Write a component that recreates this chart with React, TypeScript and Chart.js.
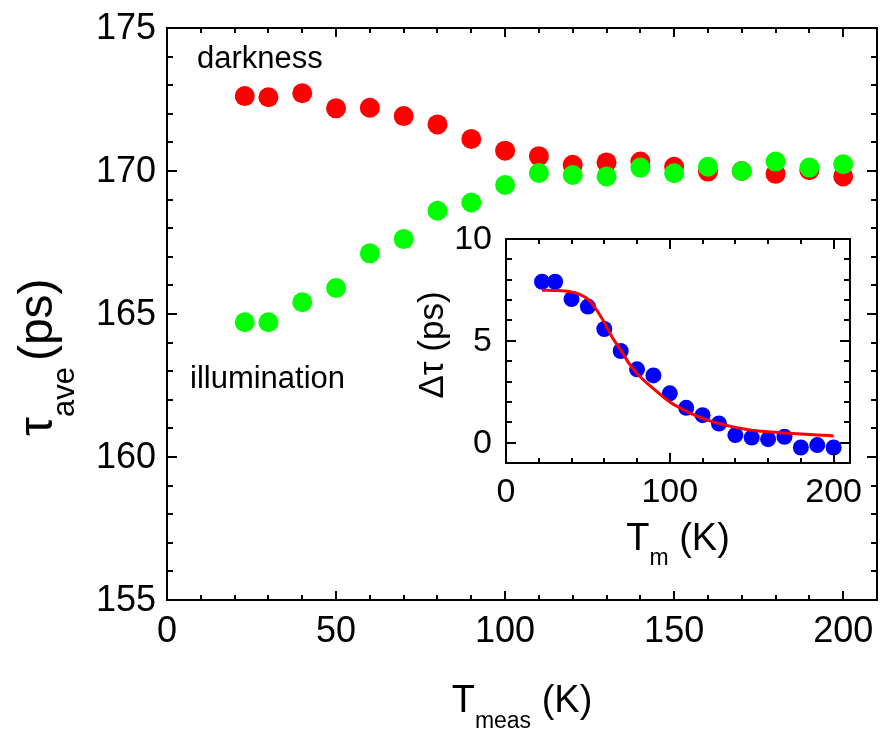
import React, { useEffect, useRef } from "react";
import { Chart, registerables } from "chart.js";

Chart.register(...registerables);

const FONT = "'Liberation Sans', Arial, Helvetica, sans-serif";

// ---------- Main chart data ----------
const tempMain = [23, 30, 40, 50, 60, 70, 80, 90, 100, 110, 120, 130, 140, 150, 160, 170, 180, 190, 200];
const darkness = [172.62, 172.58, 172.72, 172.19, 172.21, 171.92, 171.63, 171.12, 170.71, 170.52, 170.22, 170.3, 170.33, 170.15, 169.98, 170.0, 169.9, 170.03, 169.81];
const illumination = [164.71, 164.71, 165.41, 165.91, 167.12, 167.62, 168.61, 168.9, 169.51, 169.93, 169.86, 169.81, 170.12, 169.92, 170.15, 170.0, 170.33, 170.12, 170.24];
const mainXTicks = [0, 50, 100, 150, 200];
const mainYTicks = [155, 160, 165, 170, 175];

// ---------- Inset data ----------
const tempInset = [22, 30, 40, 50, 60, 70, 80, 90, 100, 110, 120, 130, 140, 150, 160, 170, 180, 190, 200];
const deltaTau = [7.9, 7.9, 7.05, 6.68, 5.58, 4.5, 3.6, 3.3, 2.42, 1.71, 1.35, 0.94, 0.37, 0.25, 0.17, 0.29, -0.24, -0.12, -0.24];
const fitTemp = [22, 30, 40, 45, 50, 55, 60, 65, 70, 75, 80, 90, 100, 110, 120, 130, 140, 150, 160, 170, 180, 190, 200];
const fitDelta = [7.48, 7.47, 7.4, 7.28, 7.05, 6.55, 5.9, 5.15, 4.55, 3.9, 3.4, 2.65, 2.0, 1.55, 1.19, 0.94, 0.75, 0.61, 0.53, 0.47, 0.42, 0.38, 0.33];
const insetXTicks = [0, 100, 200];
const insetYTicks = [0, 5, 10];

type Spec = {
  xMin: number; xMax: number; xMinorStep: number; xMajor: number[];
  yMin: number; yMax: number; yMinorStep: number; yMajor: number[];
  xMajorLen: number; xMinorLen: number; yMajorLen: number; yMinorLen: number;
  tickFont: number; xLabelOffset: number; yLabelOffset: number;
  extra: (ctx: CanvasRenderingContext2D, a: any) => void;
  whiteBg?: boolean;
};

function range(min: number, max: number, step: number) {
  const out: number[] = [];
  for (let v = Math.ceil(min / step) * step; v <= max + 1e-9; v += step) out.push(Math.round(v * 1000) / 1000);
  return out;
}

function axesPlugin(spec: Spec) {
  return {
    id: "customAxes",
    beforeDraw(chart: any) {
      if (!spec.whiteBg) return;
      const { ctx, chartArea: a } = chart;
      ctx.save();
      ctx.fillStyle = "#fff";
      ctx.fillRect(a.left, a.top, a.right - a.left, a.bottom - a.top);
      ctx.restore();
    },
    afterDraw(chart: any) {
      const { ctx, chartArea: a, scales } = chart;
      const xs = scales.x;
      const ys = scales.y;
      ctx.save();
      ctx.strokeStyle = "#000";
      ctx.lineWidth = 2;
      ctx.strokeRect(a.left, a.top, a.right - a.left, a.bottom - a.top);
      ctx.beginPath();
      for (const v of range(spec.xMin, spec.xMax, spec.xMinorStep)) {
        const px = Math.round(xs.getPixelForValue(v));
        const len = spec.xMajor.includes(v) ? spec.xMajorLen : spec.xMinorLen;
        ctx.moveTo(px, a.bottom); ctx.lineTo(px, a.bottom - len);
        ctx.moveTo(px, a.top); ctx.lineTo(px, a.top + len);
      }
      for (const v of range(spec.yMin, spec.yMax, spec.yMinorStep)) {
        const py = Math.round(ys.getPixelForValue(v));
        const len = spec.yMajor.includes(v) ? spec.yMajorLen : spec.yMinorLen;
        ctx.moveTo(a.left, py); ctx.lineTo(a.left + len, py);
        ctx.moveTo(a.right, py); ctx.lineTo(a.right - len, py);
      }
      ctx.stroke();

      ctx.fillStyle = "#000";
      ctx.font = `${spec.tickFont}px ${FONT}`;
      ctx.textAlign = "center";
      ctx.textBaseline = "alphabetic";
      for (const v of spec.xMajor) {
        ctx.fillText(String(v), xs.getPixelForValue(v), a.bottom + spec.xLabelOffset);
      }
      ctx.textAlign = "right";
      ctx.textBaseline = "middle";
      for (const v of spec.yMajor) {
        ctx.fillText(String(v), a.left - spec.yLabelOffset, ys.getPixelForValue(v) + 1);
      }
      ctx.textBaseline = "alphabetic";
      spec.extra(ctx, a);
      ctx.restore();
    },
  };
}

function drawSubTitle(
  ctx: CanvasRenderingContext2D,
  parts: { t: string; size: number; dy: number; gap?: number }[],
  x: number, y: number, align: "center" | "start"
) {
  ctx.textAlign = "left";
  let total = 0;
  for (const p of parts) {
    ctx.font = `${p.size}px ${FONT}`;
    total += ctx.measureText(p.t).width + (p.gap || 0);
  }
  let cx = align === "center" ? x - total / 2 : x;
  for (const p of parts) {
    ctx.font = `${p.size}px ${FONT}`;
    ctx.fillText(p.t, cx, y + p.dy);
    cx += ctx.measureText(p.t).width + (p.gap || 0);
  }
}

const mainSpec: Spec = {
  xMin: 0, xMax: 210, xMinorStep: 10, xMajor: mainXTicks,
  yMin: 155, yMax: 175, yMinorStep: 1, yMajor: mainYTicks,
  xMajorLen: 9, xMinorLen: 5, yMajorLen: 10, yMinorLen: 6,
  tickFont: 36, xLabelOffset: 42, yLabelOffset: 11,
  extra: (ctx, a) => {
    // x title
    drawSubTitle(ctx, [
      { t: "T", size: 38, dy: 0 },
      { t: "meas", size: 23, dy: 16 },
      { t: " (K)", size: 38, dy: 0 },
    ], (a.left + a.right) / 2, a.bottom + 112, "center");
    // y title (rotated)
    ctx.save();
    ctx.translate(a.left - 115, a.bottom - 164);
    ctx.rotate(-Math.PI / 2);
    drawSubTitle(ctx, [
      { t: "\u03C4", size: 48, dy: 0 },
      { t: "ave", size: 31, dy: 22, gap: 6 },
      { t: "(ps)", size: 48, dy: 0 },
    ], 0, 0, "start");
    ctx.restore();
    ctx.font = `31px ${FONT}`;
    ctx.textAlign = "left";
    ctx.fillText("darkness", a.left + 30, a.top + 40);
    ctx.fillText("illumination", a.left + 23, a.top + 360);
  },
};

const insetSpec: Spec = {
  xMin: 0, xMax: 210, xMinorStep: 20, xMajor: insetXTicks,
  yMin: -1, yMax: 10, yMinorStep: 1, yMajor: insetYTicks,
  xMajorLen: 10, xMinorLen: 5, yMajorLen: 10, yMinorLen: 6,
  tickFont: 34, xLabelOffset: 39, yLabelOffset: 14,
  whiteBg: true,
  extra: (ctx, a) => {
    drawSubTitle(ctx, [
      { t: "T", size: 38, dy: 0 },
      { t: "m", size: 23, dy: 15 },
      { t: " (K)", size: 38, dy: 0 },
    ], (a.left + a.right) / 2, a.bottom + 87, "center");
    ctx.save();
    ctx.translate(a.left - 63, a.top + 106);
    ctx.rotate(-Math.PI / 2);
    ctx.font = `35px ${FONT}`;
    ctx.textAlign = "center";
    ctx.fillText("\u0394\u03C4 (ps)", 0, 0);
    ctx.restore();
  },
};

function baseOptions(spec: Spec, padding: any) {
  return {
    responsive: false,
    animation: false as const,
    devicePixelRatio: 1,
    layout: { padding },
    plugins: { legend: { display: false }, tooltip: { enabled: false } },
    scales: {
      x: { type: "linear" as const, min: spec.xMin, max: spec.xMax, display: false },
      y: { type: "linear" as const, min: spec.yMin, max: spec.yMax, display: false },
    },
  };
}

export default function App() {
  const mainRef = useRef<HTMLCanvasElement>(null);
  const insetRef = useRef<HTMLCanvasElement>(null);

  useEffect(() => {
    const main = new Chart(mainRef.current!, {
      type: "scatter",
      data: {
        datasets: [
          {
            label: "darkness",
            data: tempMain.map((t, i) => ({ x: t, y: darkness[i] })),
            backgroundColor: "#ff0000",
            borderWidth: 0,
            pointRadius: 10,
            order: 2,
          },
          {
            label: "illumination",
            data: tempMain.map((t, i) => ({ x: t, y: illumination[i] })),
            backgroundColor: "#00ff00",
            borderWidth: 0,
            pointRadius: 10,
            order: 1,
          },
        ],
      },
      options: baseOptions(mainSpec, { left: 167, top: 28, right: 4, bottom: 131 }) as any,
      plugins: [axesPlugin(mainSpec)],
    });

    const inset = new Chart(insetRef.current!, {
      type: "scatter",
      data: {
        datasets: [
          {
            label: "data",
            data: tempInset.map((t, i) => ({ x: t, y: deltaTau[i] })),
            backgroundColor: "#0000ff",
            borderWidth: 0,
            pointRadius: 8,
            order: 2,
          },
          {
            label: "fit",
            data: fitTemp.map((t, i) => ({ x: t, y: fitDelta[i] })),
            showLine: true,
            borderColor: "#ff0000",
            borderWidth: 3,
            pointRadius: 0,
            cubicInterpolationMode: "monotone",
            fill: false,
            order: 1,
          } as any,
        ],
      },
      options: baseOptions(insetSpec, { left: 126, top: 24, right: 17, bottom: 112 }) as any,
      plugins: [axesPlugin(insetSpec)],
    });

    return () => {
      main.destroy();
      inset.destroy();
    };
  }, []);

  return (
    <div style={{ position: "absolute", left: 0, top: 0, width: 887, height: 731, background: "#fff" }}>
      <canvas ref={mainRef} width={887} height={731} style={{ position: "absolute", left: 0, top: 0 }} />
      <canvas ref={insetRef} width={487} height={360} style={{ position: "absolute", left: 380, top: 215 }} />
    </div>
  );
}
